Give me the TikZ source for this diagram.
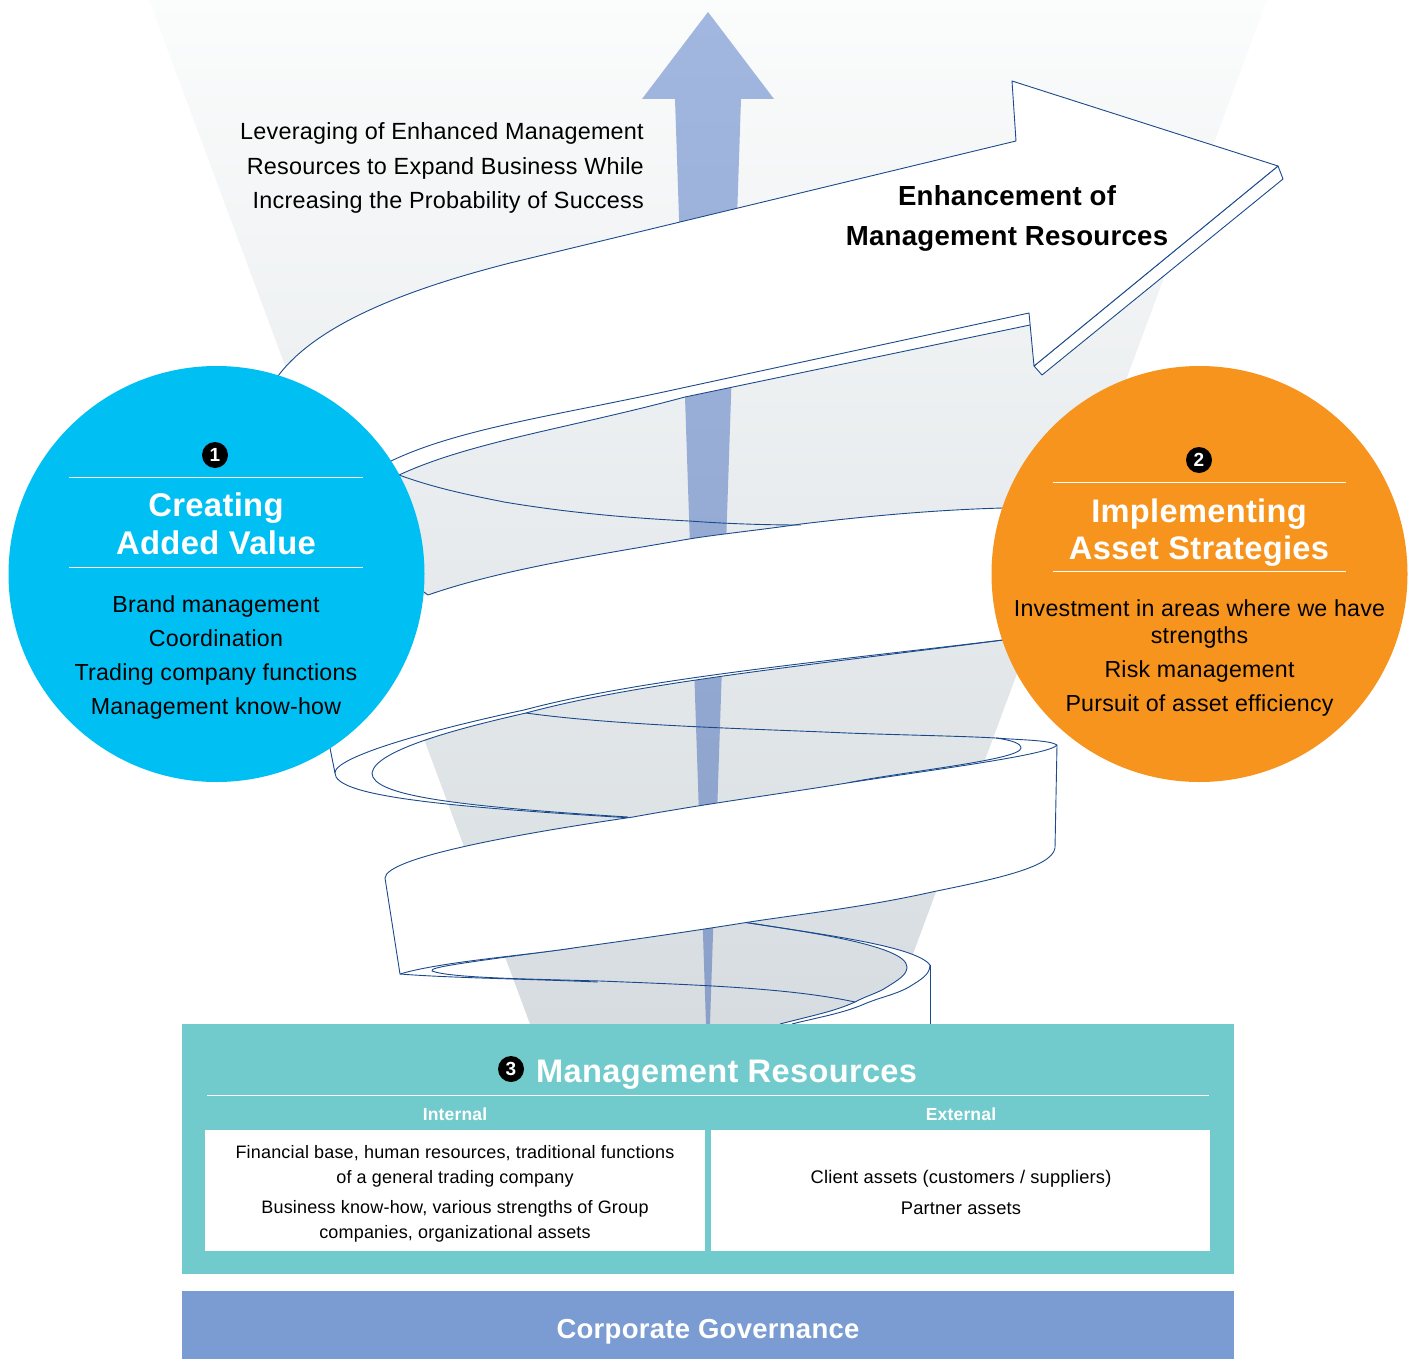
\documentclass[tikz,border=0pt]{standalone}
\usepackage{fontspec}
\setmainfont{Liberation Sans}
\newfontfamily\bodyf[LetterSpace=1.0]{Liberation Sans}
\newfontfamily\headf[LetterSpace=1.0,BoldFont={Liberation Sans Bold}]{Liberation Sans}
\definecolor{navy}{HTML}{1A4A8C}
\definecolor{skyc}{HTML}{00BFF3}
\definecolor{orangec}{HTML}{F7941E}
\definecolor{tealc}{HTML}{71CBCC}
\definecolor{govc}{HTML}{7B9CD2}
\definecolor{funtop}{HTML}{FBFCFC}
\definecolor{funbot}{HTML}{D6DCE0}
\definecolor{arrtop}{HTML}{A2B7DF}
\definecolor{arrbot}{HTML}{8AA0C8}
\tikzset{
  rib/.style={fill=white,draw=navy,line width=.9pt,line join=round},
  ribfill/.style={fill=white},
  ribline/.style={draw=navy,line width=.9pt,line join=round},
  disc/.style={circle,inner sep=0pt,minimum size=416pt},
  bullet/.style={circle,fill=black,inner sep=0pt,minimum size=26pt,text=white,font=\fontsize{19}{19}\selectfont\bfseries},
  sep/.style={draw=white,line width=.9pt},
  body/.style={align=center,inner sep=0pt,text=black,font=\bodyf\fontsize{23.2}{34}\selectfont},
  bigw/.style={align=center,inner sep=0pt,text=white,font=\headf\fontsize{32.6}{37}\selectfont\bfseries},
  small/.style={align=center,inner sep=0pt,text=black,font=\bodyf\fontsize{18}{25}\selectfont},
  smallh/.style={inner sep=0pt,text=white,font=\headf\fontsize{17.5}{20}\selectfont\bfseries},
}
\begin{document}
\begin{tikzpicture}[x=1pt,y=-1pt]
\useasboundingbox (0,0) rectangle (1421,1359);
% funnel and central arrow
\shade[top color=funtop,bottom color=funbot] (149,0) -- (1267,0) -- (887,1024) -- (530,1024) -- cycle;
\shade[top color=arrtop,bottom color=arrbot]
  (708,12) -- (774,99) -- (741,99) -- (710,1024) -- (706,1024) -- (675,99) -- (642,99) -- cycle;
% lowest turn, right side
\path[ribfill] (930,965) .. controls (930,975) and (920,980) .. (909,987) .. controls (895,995) and (880,997) .. (862,1005) .. controls (840,1014) and (815,1018) .. (792,1024) -- (930,1024) -- cycle;
\path[ribfill] (743,922) .. controls (810,933) and (915,945) .. (930,965) .. controls (930,975) and (920,980) .. (909,987) .. controls (895,995) and (880,997) .. (862,1005) .. controls (840,1014) and (815,1018) .. (792,1024) -- (780,1024) .. controls (810,1016) and (833,1012) .. (855,1002) .. controls (866,996) and (878,993) .. (887,987) .. controls (898,980) and (907,975) .. (907,967) .. controls (907,945) and (800,931) .. (743,922) -- cycle;
\draw[ribline] (743,922) .. controls (810,933) and (915,945) .. (930,965) .. controls (930,975) and (920,980) .. (909,987) .. controls (895,995) and (880,997) .. (862,1005) .. controls (840,1014) and (815,1018) .. (792,1024);
\draw[ribline] (780,1024) .. controls (810,1016) and (833,1012) .. (855,1002) .. controls (866,996) and (878,993) .. (887,987) .. controls (898,980) and (907,975) .. (907,967) .. controls (907,945) and (800,931) .. (743,922);
\draw[ribline] (930,965) -- (930,1024);
% lowest turn, left side
\path[ribfill] (400,974) .. controls (450,978) and (530,979) .. (598,982) -- (600,981) .. controls (530,979) and (450,978) .. (432,971) .. controls (428,967) and (470,962) .. (573,948) .. controls (520,956) and (440,962) .. (400,974) -- cycle;
\draw[ribline] (400,974) .. controls (450,978) and (530,979) .. (598,982);
\draw[ribline] (855,1002) .. controls (790,988) and (700,985) .. (600,981) .. controls (530,979) and (450,978) .. (432,971) .. controls (428,967) and (470,962) .. (573,948);
% white front band below the blue disc
\path[ribfill] (1003,508) .. controls (930,510) and (860,517) .. (801,524) .. controls (760,530) and (720,534) .. (689,539) .. controls (590,556) and (500,570) .. (428,595) -- (300,600) -- (330,748) -- (335,773) .. controls (334,757) and (430,730) .. (524,710) .. controls (640,679) and (820,662) .. (1003,640) -- (1050,570) -- cycle;
\draw[ribline] (1003,508) .. controls (930,510) and (860,517) .. (801,524) .. controls (760,530) and (720,534) .. (689,539) .. controls (590,556) and (500,570) .. (428,595) -- (424,592);
\draw[ribline] (330,748) -- (335,773);
% back strip, middle turn
\path[ribfill] (1003,640) .. controls (820,662) and (640,679) .. (524,710) .. controls (430,730) and (334,757) .. (335,773) .. controls (335,795) and (430,806) .. (633,818) -- (628,817) .. controls (450,806) and (372,795) .. (372,773) .. controls (375,750) and (460,728) .. (526,713) .. controls (640,682) and (820,664) .. (1003,640) -- cycle;
\draw[ribline] (1003,640) .. controls (820,662) and (640,679) .. (524,710) .. controls (430,730) and (334,757) .. (335,773) .. controls (335,795) and (430,806) .. (633,818);
\draw[ribline] (1003,640) .. controls (820,664) and (640,682) .. (526,713) .. controls (460,728) and (375,750) .. (372,773) .. controls (372,795) and (450,806) .. (628,817);
% right crescent, middle turn
\path[ribfill] (996,738) .. controls (1020,740) and (1050,740) .. (1057,745) .. controls (1050,755) and (930,770) .. (847,783) .. controls (900,772) and (1021,760) .. (1021,748) .. controls (1021,743) and (1010,740) .. (996,738) -- cycle;
\draw[ribline] (526,713) .. controls (620,726) and (760,729) .. (847,733) .. controls (900,735) and (960,736) .. (996,738) .. controls (1020,740) and (1050,740) .. (1057,745);
\draw[ribline] (996,738) .. controls (1010,740) and (1021,743) .. (1021,748) .. controls (1021,760) and (900,772) .. (847,783);
% front band, lower
\draw[rib] (385,878) .. controls (386,858) and (510,835) .. (633,817) .. controls (710,803) and (780,794) .. (847,783) .. controls (930,770) and (1050,755) .. (1057,745) -- (1055,848) .. controls (1052,868) and (990,880) .. (932,892) .. controls (860,908) and (800,914) .. (743,923) .. controls (680,933) and (630,940) .. (573,948) .. controls (520,956) and (440,962) .. (400,974) -- cycle;
% back curve, upper turn
\draw[ribline] (399,475) .. controls (440,490) and (480,497) .. (504,502) .. controls (570,513) and (630,518) .. (689,521) .. controls (730,524) and (770,525) .. (801,525);
% top arrow side faces
\path[ribfill] (391,461) .. controls (460,428) and (560,415) .. (682,388) -- (1029,313) -- (1030,325) -- (685,397) .. controls (570,428) and (470,442) .. (399,475) -- cycle;
\draw[ribline] (1030,325) -- (685,397) .. controls (570,428) and (470,442) .. (399,475);
\draw[rib] (1278,166) -- (1283,179) -- (1042,375) -- (1034,366) -- cycle;
% top arrow face
\draw[rib] (278,376) .. controls (320,320) and (420,286) .. (510,263) -- (1016,141) -- (1012,81) -- (1278,166) -- (1034,366) -- (1029,313) -- (682,388) .. controls (560,415) and (460,428) .. (391,461) -- (300,480) -- cycle;
% discs
\node[disc,fill=skyc] (left) at (216.5,574) {};
\node[disc,fill=orangec] (right) at (1199.5,574) {};
% left disc text
\node[bullet] (b1) at (215,455) {1};
\draw[sep] (69,477) -- (363,477);
\node[bigw,font=\headf\fontsize{32.8}{38}\selectfont\bfseries] (t1) at (216,524) {Creating\\Added Value};
\draw[sep] (69,567) -- (363,567);
\node[body] (l1) at (216,657.5) {Brand management\\Coordination\\Trading company functions\\Management know-how};
% right disc text
\node[bullet] (b2) at (1199,460) {2};
\draw[sep] (1053,482) -- (1346,482);
\node[bigw] (t2) at (1199,532.5) {Implementing\\Asset Strategies};
\draw[sep] (1053,571) -- (1346,571);
\node[body,font=\bodyf\fontsize{23.2}{27}\selectfont] (r1) at (1199.5,624) {Investment in areas where we have\\strengths};
\node[body] (r2) at (1199.5,688.5) {Risk management\\Pursuit of asset efficiency};
% upper labels
\node[body,align=right,anchor=east,font=\bodyf\fontsize{23.4}{34.5}\selectfont] (lev) at (644,168) {Leveraging of Enhanced Management\\Resources to Expand Business While\\Increasing the Probability of Success};
\node[align=center,inner sep=0pt,text=black,font=\headf\fontsize{27.6}{40}\selectfont\bfseries] (enh) at (1007,218) {Enhancement of\\Management Resources};
% management resources box
\node[fill=tealc,inner sep=0pt,minimum width=1052pt,minimum height=250pt] (mr) at (708,1149) {};
\node[bullet] (b3) at (511,1069) {3};
\node[inner sep=0pt,anchor=west,text=white,font=\headf\fontsize{32.6}{37}\selectfont\bfseries] (mrt) at (536,1075) {Management Resources};
\draw[sep] (207,1095) -- (1209,1095);
\node[smallh] (int) at (455,1114) {Internal};
\node[smallh] (ext) at (961,1114) {External};
\node[fill=white,inner sep=0pt,minimum width=500pt,minimum height=121pt] (ib) at (455,1190.5) {};
\node[fill=white,inner sep=0pt,minimum width=499pt,minimum height=121pt] (eb) at (960.5,1190.5) {};
\node[small] (i1) at (455,1166.5) {Financial base, human resources, traditional functions\\of a general trading company};
\node[small] (i2) at (455,1221.5) {Business know-how, various strengths of Group\\companies, organizational assets};
\node[small,font=\bodyf\fontsize{18.3}{25}\selectfont] (e1) at (961,1192) {Client assets (customers / suppliers)\\[6pt]Partner assets};
% governance
\node[fill=govc,inner sep=0pt,minimum width=1052pt,minimum height=68pt] (cg) at (708,1325) {};
\node[inner sep=0pt,text=white,font=\headf\fontsize{27.5}{30}\selectfont\bfseries] (cgt) at (708,1332) {Corporate Governance};
\end{tikzpicture}
\end{document}
